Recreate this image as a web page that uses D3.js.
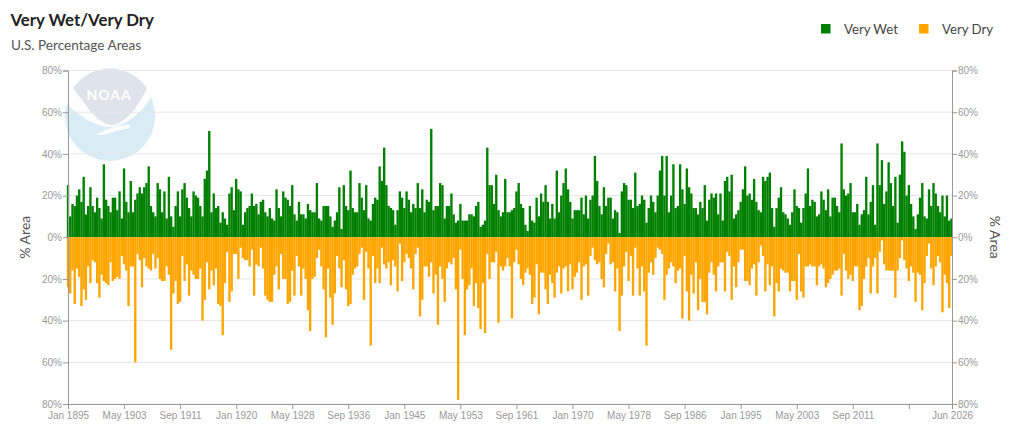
<!DOCTYPE html>
<html>
<head>
<meta charset="utf-8">
<title>Very Wet/Very Dry</title>
<script src="https://cdn.jsdelivr.net/npm/d3@7"></script>
<style>
  html, body { margin: 0; padding: 0; background: #fff; }
  svg { display: block; font-family: Lato, "Noto Sans", sans-serif; }
  .tick text { fill: #999; font-size: 10px; }
  .tick line { stroke: #999; }
  .domain { stroke: #999; }
</style>
</head>
<body>
<div id="chart"></div>
<script>
// one reading every 4 months (% of U.S. area)
const monthsPerReading = 4;
const totalMonths = 1578; // Jan 1895 .. Jun 2026

const veryWet = [
  25,10,16,15,20,23,17,29,11,15,24,15,12,19,14,9,35,18,15,12,
  19,19,13,22,9,33,17,12,27,12,18,21,24,21,24,26,34,15,12,10,
  26,23,12,22,9,29,10,5,15,22,10,23,26,19,14,10,22,20,19,15,
  10,28,32,51,12,21,14,15,7,12,9,6,21,24,13,28,23,22,6,12,
  14,15,21,15,16,11,17,18,12,10,14,9,8,23,14,10,22,19,18,15,
  25,11,8,17,11,11,9,16,13,12,12,26,9,8,15,15,15,10,5,8,
  12,24,4,25,15,13,32,14,12,12,26,19,13,25,9,8,16,19,18,34,
  27,43,25,15,14,13,6,13,22,19,14,22,18,12,16,14,26,14,23,12,
  18,17,52,13,15,15,26,25,9,15,15,21,11,7,8,16,8,8,8,11,
  11,10,15,17,5,6,8,43,25,25,16,30,13,10,12,28,12,12,13,14,
  22,26,16,14,6,3,15,8,7,19,10,21,17,25,17,9,16,9,32,12,
  20,26,33,23,17,9,13,13,13,19,11,20,9,18,20,39,27,15,11,24,
  15,19,19,9,13,12,2,22,26,25,18,18,14,31,15,16,20,18,7,14,
  20,17,12,20,32,39,20,39,12,20,35,14,15,35,23,16,33,24,21,14,
  14,11,17,14,25,8,18,21,19,21,11,21,8,27,29,22,30,9,11,13,
  17,23,34,20,21,18,28,17,13,12,29,27,29,31,14,5,14,19,24,12,
  11,9,6,12,23,15,14,7,14,21,33,15,18,17,10,11,22,18,13,23,
  10,19,19,15,12,45,23,20,21,26,12,12,16,6,11,13,29,11,17,25,
  6,45,25,37,16,22,36,26,15,29,7,30,46,41,20,25,16,10,4,11,
  19,26,10,9,23,15,26,21,15,12,20,10,20,8,9
];

const veryDry = [
  24,27,16,32,15,19,33,25,30,14,22,11,12,22,29,18,21,22,23,12,
  21,20,19,20,9,13,16,33,14,14,60,8,11,24,10,14,15,16,8,15,
  10,20,21,21,14,18,54,27,21,32,31,9,21,13,28,16,18,20,20,15,
  40,30,12,25,16,23,15,32,33,47,22,7,31,26,8,8,20,5,10,11,
  11,14,6,28,13,14,5,15,28,30,31,31,18,14,25,8,20,20,32,31,
  16,28,9,14,28,15,20,35,45,20,19,10,6,14,25,48,15,29,42,27,
  9,15,24,11,25,33,32,18,15,14,8,5,30,7,15,52,9,22,15,22,
  5,13,15,12,23,11,14,26,3,21,12,8,10,15,25,8,5,38,30,14,
  14,19,12,27,18,42,14,20,31,15,12,13,10,25,78,6,20,47,25,23,
  15,33,22,34,44,22,46,8,20,12,12,7,41,14,16,14,10,14,39,12,
  6,13,20,23,17,15,18,32,29,13,37,17,17,25,32,18,22,29,17,14,
  27,15,14,26,13,25,19,17,12,30,14,13,28,9,5,11,13,12,20,24,
  8,3,13,12,26,15,45,28,14,7,21,9,28,5,15,28,14,26,52,17,
  12,18,10,5,6,8,30,18,15,12,14,22,16,15,39,9,26,40,18,27,
  12,35,20,31,31,37,17,12,18,26,14,12,12,26,7,9,30,14,24,12,
  6,6,21,21,23,15,13,28,12,4,9,26,13,23,14,38,22,26,15,16,
  17,17,26,21,21,30,8,26,29,14,14,13,14,14,23,14,13,15,24,22,
  20,18,16,16,15,28,8,16,20,18,21,14,14,35,33,20,14,10,27,14,
  10,27,7,1.5,13,16,16,16,16,29,16,10,1.5,11,15,21,14,17,31,17,
  18,35,22,9,3,15,23,14,9,12,36,18,22,34,9
];

const tickMonths = [0,100,200,300,400,500,600,700,800,900,1000,1100,1200,1300,1400,1500,1577];
const tickLabels = ['Jan 1895','May 1903','Sep 1911','Jan 1920','May 1928','Sep 1936','Jan 1945','May 1953',
  'Sep 1961','Jan 1970','May 1978','Sep 1986','Jan 1995','May 2003','Sep 2011','','Jun 2026'];
const percentTicks = [-80,-60,-40,-20,0,20,40,60,80];

const seriesNames = ['Very Wet', 'Very Dry'];
const seriesColors = ['#008000', '#ffa500'];

const width = 1024;
const height = 437;
const margin = { top: 70.5, right: 72, bottom: 33, left: 68 };

const svg = d3.select('#chart').append('svg')
  .attr('width', width)
  .attr('height', height);

const x = d3.scaleLinear()
  .domain([0, totalMonths - 1])
  .range([margin.left, width - margin.right]);

const y = d3.scaleLinear()
  .domain([-80, 80])
  .range([height - margin.bottom, margin.top]);

// NOAA watermark, sits behind the grid
const logo = svg.append('g').attr('class', 'logo');
logo.append('circle').attr('cx', 110).attr('cy', 116).attr('r', 45).attr('fill', '#d9ecf6');
logo.append('path')
  .attr('d', 'M60,60 H160 V96 L151,97 C143,112 128,124 112,127 C94,127 78,115 66,103 L60,103 Z')
  .attr('fill', '#fff');
logo.append('path')
  .attr('d', 'M73,88 A45,45 0 0 1 147,88 C139,105 125,125 112,125 C97,125 85,103 73,88 Z')
  .attr('fill', '#dfe3ec');
logo.append('path')
  .attr('d', 'M130,125 C122,125 112,127 103,131 C100,133 97,134 96,135 C107,136 116,130 130,128 Z')
  .attr('fill', '#fff');
logo.append('text')
  .attr('x', 109).attr('y', 100)
  .attr('text-anchor', 'middle')
  .style('font-size', '14px')
  .style('font-weight', 700)
  .style('letter-spacing', '1px')
  .attr('fill', '#fff')
  .text('NOAA');

// horizontal grid
svg.append('g')
  .selectAll('line')
  .data(percentTicks)
  .enter()
  .append('line')
  .attr('x1', x.range()[0])
  .attr('x2', x.range()[1])
  .attr('y1', d => y(d))
  .attr('y2', d => y(d))
  .attr('stroke', '#e6e6e6')
  .attr('stroke-width', 1);

// bars, slightly wider than the reading step so the base stays solid
const barWidth = 2.35;
svg.append('g')
  .selectAll('rect')
  .data(veryWet)
  .enter()
  .append('rect')
  .attr('x', (d, i) => x(i * monthsPerReading) - barWidth / 2)
  .attr('y', d => y(d))
  .attr('width', barWidth)
  .attr('height', d => y(0) - y(d))
  .attr('fill', seriesColors[0]);

svg.append('g')
  .selectAll('rect')
  .data(veryDry)
  .enter()
  .append('rect')
  .attr('x', (d, i) => x(i * monthsPerReading) - barWidth / 2)
  .attr('y', y(0))
  .attr('width', barWidth)
  .attr('height', d => y(-d) - y(0))
  .attr('fill', seriesColors[1]);

// axes
const percentFormat = d => Math.abs(d) + '%';

svg.append('g')
  .attr('transform', `translate(${x.range()[0]},0)`)
  .call(d3.axisLeft(y).tickValues(percentTicks).tickFormat(percentFormat).tickSize(5).tickPadding(1));

svg.append('g')
  .attr('transform', `translate(${x.range()[1]},0)`)
  .call(d3.axisRight(y).tickValues(percentTicks).tickFormat(percentFormat).tickSize(5).tickPadding(1));

svg.append('g')
  .attr('transform', `translate(0,${y.range()[0]})`)
  .call(d3.axisBottom(x)
    .tickValues(tickMonths)
    .tickFormat((d, i) => tickLabels[i])
    .tickSize(5)
    .tickPadding(3)
    .tickSizeOuter(0));

// axis titles
svg.append('text')
  .attr('transform', `translate(30,${y(0)}) rotate(-90)`)
  .attr('text-anchor', 'middle')
  .style('font-size', '14px')
  .attr('fill', '#555')
  .text('% Area');

svg.append('text')
  .attr('transform', `translate(990,${y(0)}) rotate(90)`)
  .attr('text-anchor', 'middle')
  .style('font-size', '14px')
  .attr('fill', '#555')
  .text('% Area');

// title block
svg.append('text')
  .attr('x', 10.5).attr('y', 26)
  .style('font-size', '16.8px')
  .style('font-weight', 700)
  .attr('fill', '#222')
  .text('Very Wet/Very Dry');

svg.append('text')
  .attr('x', 11).attr('y', 50)
  .style('font-size', '13.6px')
  .attr('fill', '#555')
  .text('U.S. Percentage Areas');

// legend
const legendX = [821, 919];
const legend = svg.append('g')
  .selectAll('g')
  .data(seriesNames)
  .enter()
  .append('g')
  .attr('transform', (d, i) => `translate(${legendX[i]},24)`);

legend.append('rect')
  .attr('width', 9.5)
  .attr('height', 9.5)
  .attr('fill', (d, i) => seriesColors[i]);

legend.append('text')
  .attr('x', 23)
  .attr('y', 10)
  .style('font-size', '13.2px')
  .attr('fill', '#444')
  .text(d => d);
</script>
</body>
</html>
